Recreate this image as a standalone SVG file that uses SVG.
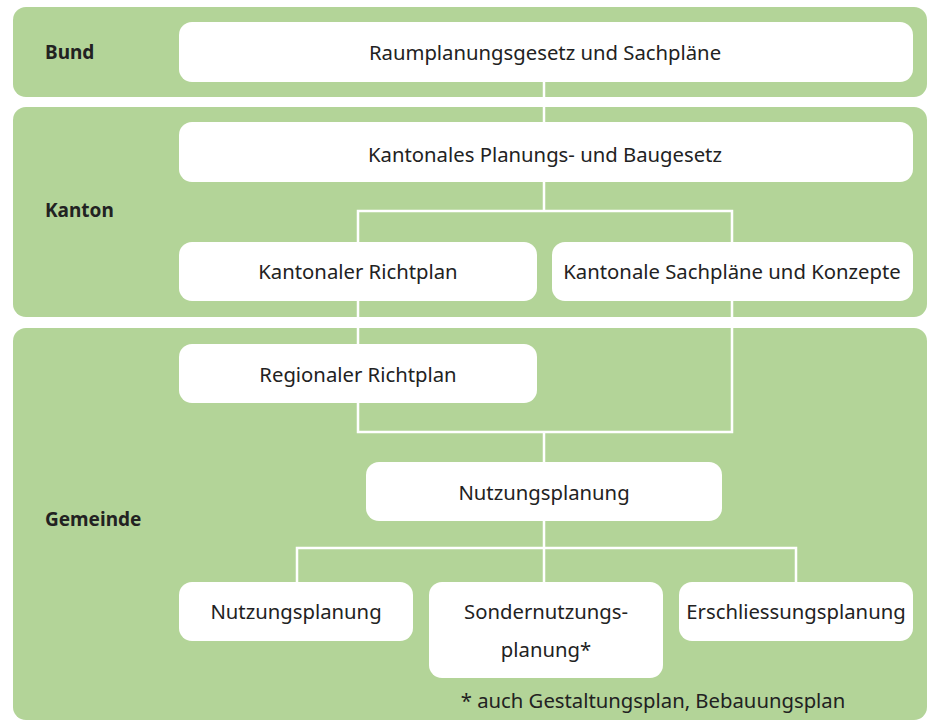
<svg xmlns="http://www.w3.org/2000/svg" width="933" height="720" viewBox="0 0 933 720">
<style>
.panel{fill:#b3d498}
.box{fill:#ffffff}
.lvl{font-family:"Noto Sans","Liberation Sans",sans-serif;font-size:19px;font-weight:bold;fill:#222222}
.t{font-family:"Noto Sans","Liberation Sans",sans-serif;font-size:20.3px;fill:#222222;text-anchor:middle;dominant-baseline:central}
.c{fill:none;stroke:#ffffff;stroke-width:2.5}
</style>
<rect width="933" height="720" fill="#ffffff"/>
<g id="panels">
<rect class="panel" x="13" y="7" width="914" height="90" rx="13"/>
<rect class="panel" x="13" y="107" width="914" height="210" rx="13"/>
<rect class="panel" x="13" y="328" width="914" height="392" rx="13"/>
<text class="lvl" x="45" y="59">Bund</text>
<text class="lvl" x="45" y="217">Kanton</text>
<text class="lvl" x="45" y="526">Gemeinde</text>
</g>
<g id="connectors">
<path class="c" d="M544 82V122"/>
<path class="c" d="M544 182V211M358 242V211H732V242"/>
<path class="c" d="M358 301V344"/>
<path class="c" d="M358 403V432H732V301M544 432V462"/>
<path class="c" d="M544 521V548M297 582V548H796V582M544 548V582"/>
</g>
<g id="n1"><rect class="box" x="179" y="22" width="734" height="60" rx="13"/><text class="t" x="545" y="52">Raumplanungsgesetz und Sachpläne</text></g>
<g id="n2"><rect class="box" x="179" y="122" width="734" height="60" rx="13"/><text class="t" x="545" y="154">Kantonales Planungs- und Baugesetz</text></g>
<g id="n3"><rect class="box" x="179" y="242" width="358" height="59" rx="13"/><text class="t" x="358" y="271">Kantonaler Richtplan</text></g>
<g id="n4"><rect class="box" x="552" y="242" width="361" height="59" rx="13"/><text class="t" x="732" y="271">Kantonale Sachpläne und Konzepte</text></g>
<g id="n5"><rect class="box" x="179" y="344" width="358" height="59" rx="13"/><text class="t" x="358" y="374">Regionaler Richtplan</text></g>
<g id="n6"><rect class="box" x="366" y="462" width="356" height="59" rx="13"/><text class="t" x="544" y="492">Nutzungsplanung</text></g>
<g id="n7"><rect class="box" x="179" y="582" width="234" height="59" rx="13"/><text class="t" x="296" y="611">Nutzungsplanung</text></g>
<g id="n8"><rect class="box" x="429" y="582" width="234" height="96" rx="13"/><text class="t" x="546" y="611">Sondernutzungs-</text><text class="t" x="546" y="649">planung*</text></g>
<g id="n9"><rect class="box" x="679" y="582" width="234" height="59" rx="13"/><text class="t" x="796" y="611">Erschliessungsplanung</text></g>
<text class="t" x="653" y="700">* auch Gestaltungsplan, Bebauungsplan</text>
</svg>
